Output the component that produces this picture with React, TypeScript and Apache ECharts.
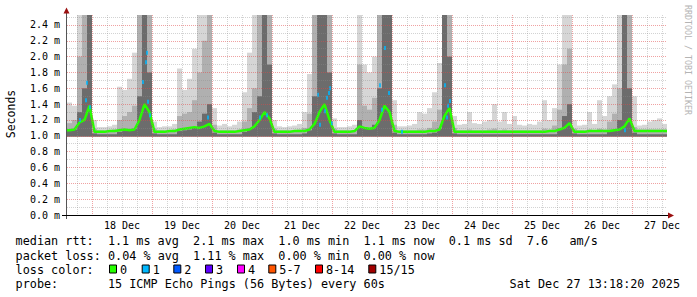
import React, { useEffect, useRef } from 'react';
import * as echarts from 'echarts';

// ---- time axis (hours counted from 17 Dec 00:00) ----
const START_HOUR = 14; // 17 Dec 14:00
const END_HOUR = 254; // 27 Dec 14:00
const STEP_HOURS = 2;

const DAY_LABELS = ['18 Dec', '19 Dec', '20 Dec', '21 Dec', '22 Dec', '23 Dec', '24 Dec', '25 Dec', '26 Dec', '27 Dec'];
const DAY_LABEL_HOURS = [36, 60, 84, 108, 132, 156, 180, 204, 228, 252];
const Y_LABELS = ['0.0 m', '0.2 m', '0.4 m', '0.6 m', '0.8 m', '1.0 m', '1.2 m', '1.4 m', '1.6 m', '1.8 m', '2.0 m', '2.2 m', '2.4 m'];
const Y_MAX = 2.526;

// ---- smoke (ms), one value per 2-hour slot starting at START_HOUR ----
const SMOKE_FLOOR = 0.99;
const SMOKE_HIGH = [
  1.42, 1.38, 2.6, 2.6, 2.6, 1.2, 1.11, 1.11, 1.12, 1.14,
  1.62, 1.58, 1.72, 2.05, 2.6, 2.6, 2.6, 1.18, 1.11, 1.12,
  1.12, 1.15, 1.85, 1.58, 1.72, 2.1, 2.6, 2.6, 2.6, 1.35,
  1.13, 1.15, 1.12, 1.14, 1.18, 1.55, 2.05, 2.6, 2.6, 2.6,
  2.6, 1.2, 1.12, 1.11, 1.12, 1.13, 1.15, 1.3, 1.78, 2.6,
  2.6, 2.6, 2.6, 1.22, 1.11, 1.11, 1.12, 1.14, 2.6, 1.9,
  1.8, 2.0, 2.6, 2.6, 2.6, 1.45, 1.12, 1.12, 1.13, 1.15,
  1.3, 1.28, 1.35, 1.55, 1.92, 2.6, 2.6, 1.25, 1.14, 1.15,
  1.3, 1.16, 1.15, 1.18, 1.2, 1.4, 1.18, 1.3, 1.15, 1.25,
  1.14, 1.13, 1.15, 1.14, 1.18, 1.45, 1.2, 1.35, 1.9, 2.6,
  2.6, 1.2, 1.13, 1.14, 1.3, 1.15, 1.45, 1.25, 1.5, 1.65,
  2.6, 2.6, 2.6, 1.5, 1.13, 1.14, 1.18, 1.2, 1.22, 1.15,
];
const SMOKE_MID = [
  1.16, 1.2, 2.0, 2.6, 2.6, 1.09, 1.07, 1.07, 1.07, 1.08,
  1.2, 1.25, 1.3, 1.38, 2.6, 2.6, 2.6, 1.09, 1.07, 1.07,
  1.07, 1.08, 1.25, 1.28, 1.3, 1.45, 1.8, 2.2, 2.6, 1.14,
  1.07, 1.07, 1.07, 1.07, 1.08, 1.18, 1.35, 1.6, 2.6, 2.6,
  2.6, 1.09, 1.07, 1.07, 1.07, 1.07, 1.08, 1.1, 1.28, 2.6,
  2.6, 2.6, 2.6, 1.09, 1.07, 1.07, 1.07, 1.07, 1.9, 1.38,
  1.33, 1.48, 2.6, 2.6, 2.6, 1.14, 1.07, 1.07, 1.07, 1.07,
  1.08, 1.08, 1.1, 1.18, 1.33, 2.6, 2.6, 1.1, 1.07, 1.07,
  1.08, 1.07, 1.07, 1.07, 1.08, 1.09, 1.07, 1.08, 1.07, 1.07,
  1.07, 1.07, 1.07, 1.07, 1.07, 1.09, 1.08, 1.13, 1.33, 1.9,
  2.1, 1.09, 1.07, 1.07, 1.08, 1.07, 1.09, 1.08, 1.18, 1.28,
  1.6, 2.6, 2.6, 1.11, 1.08, 1.08, 1.08, 1.08, 1.08, 1.08,
];
const SMOKE_DARK = [
  1.06, 1.08, 1.3, 1.6, 2.6, 1.03, 1.02, 1.02, 1.02, 1.02,
  1.05, 1.06, 1.07, 1.09, 1.5, 2.6, 1.8, 1.03, 1.02, 1.02,
  1.02, 1.02, 1.06, 1.07, 1.08, 1.1, 1.18, 1.28, 1.4, 1.04,
  1.02, 1.02, 1.02, 1.02, 1.02, 1.05, 1.09, 1.3, 1.5, 2.6,
  1.9, 1.03, 1.02, 1.02, 1.02, 1.02, 1.02, 1.03, 1.07, 1.5,
  2.6, 2.6, 1.8, 1.03, 1.02, 1.02, 1.02, 1.02, 1.2, 1.1,
  1.09, 1.14, 1.6, 2.6, 2.6, 1.04, 1.02, 1.02, 1.02, 1.02,
  1.02, 1.02, 1.03, 1.04, 1.09, 2.6, 2.0, 1.03, 1.02, 1.02,
  1.02, 1.02, 1.02, 1.02, 1.02, 1.02, 1.02, 1.02, 1.02, 1.02,
  1.02, 1.02, 1.02, 1.02, 1.02, 1.02, 1.02, 1.02, 1.09, 1.25,
  1.4, 1.03, 1.02, 1.02, 1.02, 1.02, 1.02, 1.02, 1.05, 1.07,
  1.2, 2.6, 1.6, 1.04, 1.02, 1.02, 1.02, 1.02, 1.02, 1.02,
];
const MEDIAN_RTT = [
  1.07, 1.08, 1.17, 1.2, 1.38, 1.05, 1.05, 1.05, 1.06, 1.06,
  1.07, 1.08, 1.07, 1.08, 1.2, 1.4, 1.3, 1.05, 1.05, 1.05,
  1.06, 1.06, 1.08, 1.09, 1.1, 1.11, 1.1, 1.12, 1.15, 1.06,
  1.05, 1.05, 1.05, 1.05, 1.06, 1.07, 1.08, 1.12, 1.2, 1.3,
  1.22, 1.05, 1.05, 1.05, 1.05, 1.06, 1.06, 1.06, 1.08, 1.15,
  1.3, 1.4, 1.2, 1.05, 1.05, 1.05, 1.05, 1.06, 1.12, 1.1,
  1.09, 1.1, 1.2, 1.38, 1.3, 1.06, 1.05, 1.05, 1.05, 1.05,
  1.05, 1.05, 1.06, 1.06, 1.08, 1.25, 1.35, 1.05, 1.05, 1.05,
  1.05, 1.05, 1.05, 1.05, 1.05, 1.05, 1.05, 1.05, 1.05, 1.05,
  1.05, 1.05, 1.05, 1.05, 1.05, 1.05, 1.06, 1.06, 1.08, 1.1,
  1.16, 1.05, 1.05, 1.05, 1.06, 1.06, 1.06, 1.06, 1.06, 1.07,
  1.08, 1.12, 1.22, 1.06, 1.06, 1.06, 1.06, 1.06, 1.06, 1.06,
];
// median samples with 1 of 15 pings lost: [hour, ms]
const LOSS1_POINTS = [
  [19.2, 1.2], [21.6, 1.45], [22.0, 1.67], [23.2, 1.36],
  [44.4, 1.68], [45.6, 1.93], [46.0, 2.05], [46.4, 1.43], [47.2, 1.26],
  [70.4, 1.23], [91.2, 1.23], [94.0, 1.26],
  [114.4, 1.52], [115.2, 1.14], [117.2, 1.31], [118.0, 1.48], [118.8, 1.54], [119.2, 1.6], [120.0, 1.16],
  [139.2, 1.64], [140.0, 1.33], [141.2, 2.11], [142.8, 1.54], [148.0, 1.05],
  [165.2, 1.64], [166.0, 1.23], [166.4, 1.38], [167.2, 1.44],
  [237.2, 1.07],
];

// ---- legend text ----
const LEGEND_RTT = 'median rtt:  1.1 ms avg  2.1 ms max  1.0 ms min  1.1 ms now  0.1 ms sd  7.6   am/s';
const LEGEND_LOSS = 'packet loss: 0.04 % avg  1.11 % max  0.00 % min  0.00 % now';
const LEGEND_COLOR_TITLE = 'loss color:';
const LOSS_LABELS = ['0', '1', '2', '3', '4', '5-7', '8-14', '15/15'];
const LOSS_COLORS = ['#26ff00', '#00b8ff', '#0059ff', '#5e00ff', '#ff00ff', '#ff5500', '#ff0000', '#a10000'];
const LEGEND_PROBE = 'probe:       15 ICMP Echo Pings (56 Bytes) every 60s';
const TIMESTAMP = 'Sat Dec 27 13:18:20 2025';
const WATERMARK = 'RRDTOOL / TOBI OETIKER';
const Y_NAME = 'Seconds';

// ---- layout / style ----
const MONO = 'DejaVu Sans Mono';
const LEG_FS = 11.8;
const CW = 7.1;
const LEG_X0 = 15.6;
const LEG_Y = [241, 255.5, 269.5, 284];
const SWATCH_X = [109, 141.7, 173.3, 205, 237, 268.3, 315, 368.3];
const GRID_COLOR = 'rgba(140,140,140,0.38)';
const MGRID_COLOR = 'rgba(225,70,70,0.5)';
const NONE = 'rgba(0,0,0,0)';
const SMOKE_COLORS = ['#d6d6d6', '#b0b0b0', '#6c6c6c'];

function monoRow(line: string, y: number) {
  const out: any[] = [];
  const re = /\S+(?: \S+)*/g;
  let m: RegExpExecArray | null;
  while ((m = re.exec(line)) !== null) {
    out.push({
      type: 'text', z: 50,
      style: { text: m[0], x: LEG_X0 + m.index * CW, y, fill: '#000', fontSize: LEG_FS, fontFamily: MONO, align: 'left', verticalAlign: 'middle' },
    });
  }
  return out;
}

export default function App() {
  const ref = useRef<HTMLDivElement>(null);
  useEffect(() => {
    document.body.style.margin = '0';
    const chart = echarts.init(ref.current!, undefined, { renderer: 'svg' });

    const smokeData = SMOKE_HIGH.map((hi, i) => [START_HOUR + i * STEP_HOURS, SMOKE_FLOOR, SMOKE_DARK[i], SMOKE_MID[i], hi]);
    const medianData: number[][] = [[START_HOUR, MEDIAN_RTT[0]]];
    MEDIAN_RTT.forEach((v, i) => medianData.push([START_HOUR + i * STEP_HOURS + STEP_HOURS / 2, v]));
    medianData.push([END_HOUR, MEDIAN_RTT[MEDIAN_RTT.length - 1]]);

    const xColors: string[] = [];
    for (let h = START_HOUR; h <= END_HOUR; h += STEP_HOURS) {
      xColors.push(h % 24 === 0 ? MGRID_COLOR : h % 6 === 0 ? GRID_COLOR : NONE);
    }
    const yColors: string[] = [];
    for (let k = 0; k <= 25; k++) yColors.push(k % 2 === 0 ? MGRID_COLOR : GRID_COLOR);
    yColors.push(NONE);

    const graphics: any[] = [
      { type: 'line', z: 50, shape: { x1: 66.5, y1: 219, x2: 66.5, y2: 12 }, style: { stroke: '#555', lineWidth: 1 } },
      { type: 'polygon', z: 51, shape: { points: [[63.5, 13.5], [66.5, 7.5], [69.5, 13.5]] }, style: { fill: '#9b1010' } },
      { type: 'line', z: 50, shape: { x1: 62, y1: 215.5, x2: 669, y2: 215.5 }, style: { stroke: '#000', lineWidth: 1 } },
      { type: 'polygon', z: 51, shape: { points: [[668, 212.5], [674, 215.5], [668, 218.5]] }, style: { fill: '#9b1010' } },
      {
        type: 'text', z: 50, x: 11, y: 114, rotation: Math.PI / 2,
        style: { text: Y_NAME, fill: '#000', fontSize: 11.5, fontFamily: MONO, align: 'center', verticalAlign: 'middle' },
      },
      {
        type: 'text', z: 50, x: 687.5, y: 60, rotation: -Math.PI / 2,
        style: { text: WATERMARK, fill: '#b4b4b4', fontSize: 8.3, fontFamily: MONO, align: 'center', verticalAlign: 'middle' },
      },
      ...monoRow(LEGEND_RTT, LEG_Y[0]),
      ...monoRow(LEGEND_LOSS, LEG_Y[1]),
      ...monoRow(LEGEND_COLOR_TITLE, LEG_Y[2]),
      ...monoRow(LEGEND_PROBE, LEG_Y[3]),
      {
        type: 'text', z: 50,
        style: { text: TIMESTAMP, x: 680, y: LEG_Y[3], fill: '#000', fontSize: LEG_FS, fontFamily: MONO, align: 'right', verticalAlign: 'middle' },
      },
    ];
    LOSS_LABELS.forEach((lab, i) => {
      graphics.push({
        type: 'rect', z: 50,
        shape: { x: SWATCH_X[i] + 0.5, y: LEG_Y[2] - 4.5, width: 7, height: 8 },
        style: { fill: LOSS_COLORS[i], stroke: '#000', lineWidth: 1 },
      });
      graphics.push({
        type: 'text', z: 50,
        style: { text: lab, x: SWATCH_X[i] + 11, y: LEG_Y[2], fill: '#000', fontSize: LEG_FS, fontFamily: MONO, align: 'left', verticalAlign: 'middle' },
      });
    });

    chart.setOption({
      animation: false,
      backgroundColor: '#ffffff',
      grid: { left: 67, right: 30, top: 15, bottom: 82, containLabel: false },
      xAxis: {
        type: 'value', min: START_HOUR, max: END_HOUR, interval: STEP_HOURS, z: 5,
        axisLine: { show: false }, axisTick: { show: false },
        axisLabel: {
          margin: 5, fontSize: 10, fontFamily: MONO, color: '#000', showMinLabel: true, showMaxLabel: true,
          formatter: (v: number) => {
            const idx = DAY_LABEL_HOURS.indexOf(Math.round(v));
            return idx >= 0 ? DAY_LABELS[idx] : '';
          },
        },
        splitLine: { show: true, lineStyle: { color: xColors, type: [1, 1], width: 1 } },
      },
      yAxis: {
        type: 'value', min: 0, max: Y_MAX, interval: 0.1, z: 5,
        axisLine: { show: false }, axisTick: { show: false },
        axisLabel: {
          margin: 7, fontSize: 10, fontFamily: MONO, color: '#000', showMaxLabel: false,
          formatter: (v: number) => {
            const r = Math.round(v * 10);
            return r % 2 === 0 && r / 2 < Y_LABELS.length ? Y_LABELS[r / 2] : '';
          },
        },
        splitLine: { show: true, lineStyle: { color: yColors, type: [1, 1], width: 1 } },
      },
      series: [
        {
          type: 'custom',
          data: smokeData,
          encode: { x: 0, y: 4 },
          z: 2,
          renderItem: (params: any, api: any) => {
            const cs = params.coordSys;
            const h = api.value(0);
            const left = api.coord([h, 0])[0];
            const right = api.coord([h + STEP_HOURS, 0])[0];
            const yOf = (v: number) => Math.max(cs.y, api.coord([h, v])[1]);
            const yFloor = yOf(api.value(1));
            const mk = (top: number, color: string) => ({
              type: 'rect',
              shape: { x: left, y: top, width: right - left, height: Math.max(0, yFloor - top) },
              style: { fill: color },
            });
            return {
              type: 'group',
              children: [
                mk(yOf(api.value(4)), SMOKE_COLORS[0]),
                mk(yOf(api.value(3)), SMOKE_COLORS[1]),
                mk(yOf(api.value(2)), SMOKE_COLORS[2]),
              ],
            };
          },
        },
        {
          type: 'line', data: medianData, showSymbol: false, z: 3,
          lineStyle: { color: LOSS_COLORS[0], width: 2.5 },
        },
        {
          type: 'scatter', data: LOSS1_POINTS, symbol: 'rect', symbolSize: [2, 4], z: 4,
          itemStyle: { color: LOSS_COLORS[1] },
        },
      ],
      graphic: { elements: graphics },
    });
    return () => chart.dispose();
  }, []);
  return <div ref={ref} style={{ width: 697, height: 297 }} />;
}
